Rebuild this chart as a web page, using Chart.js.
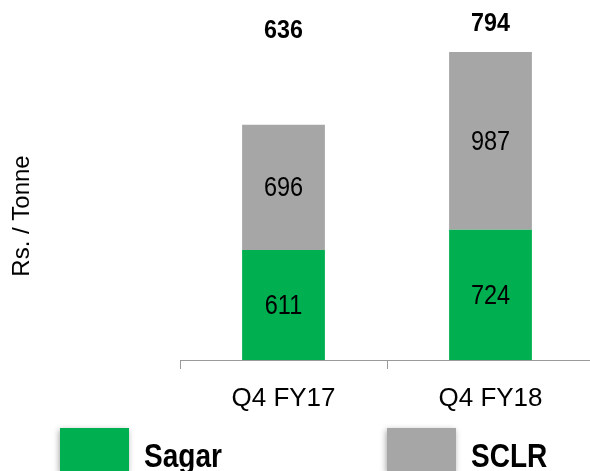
<!DOCTYPE html>
<html lang="en">
<head>
<meta charset="UTF-8" />
<meta name="viewport" content="width=device-width, initial-scale=1.0" />
<title>Rs. / Tonne</title>
<script src="https://cdn.jsdelivr.net/npm/chart.js"></script>
<style>
    html, body {
        margin: 0;
        padding: 0;
        background: #fff;
        overflow: hidden;
    }
    #chart {
        width: 594px;
        height: 471px;
    }
</style>
</head>
<body>
<div id="chart">
    <canvas id="myChart"></canvas>
</div>
<script>
    // Data
    const categories = ["Q4 FY17", "Q4 FY18"];
    const sagar = [611, 724];
    const sclr = [696, 987];
    const topLabels = ["636", "794"];

    const FONT = "'Liberation Sans', Arial, sans-serif";
    const GREEN = "#00b050";
    const GREY = "#a6a6a6";

    // the original uses a narrow font, squeeze the text a bit
    function narrowText(ctx, text, x, y, sx) {
        ctx.save();
        ctx.translate(x, y);
        ctx.scale(sx, 1);
        ctx.fillText(text, 0, 0);
        ctx.restore();
    }

    // Values inside each bar segment + bold labels over the bars
    const segmentLabels = {
        id: "segmentLabels",
        afterDatasetsDraw(chart) {
            const ctx = chart.ctx;
            ctx.save();
            ctx.font = "28px " + FONT;
            ctx.fillStyle = "#000";
            ctx.textAlign = "center";
            ctx.textBaseline = "middle";
            chart.data.datasets.forEach((ds, di) => {
                chart.getDatasetMeta(di).data.forEach((bar, i) => {
                    const p = bar.getProps(["x", "y", "base"], true);
                    narrowText(ctx, String(ds.data[i]), p.x, (p.y + p.base) / 2 + 1, 0.84);
                });
            });

            const last = chart.getDatasetMeta(chart.data.datasets.length - 1);
            ctx.font = "bold 25px " + FONT;
            last.data.forEach((bar, i) => {
                const y = Math.min(bar.y - 28, chart.chartArea.top - 41);
                narrowText(ctx, topLabels[i], bar.x, y, 0.93);
            });
            ctx.restore();
        },
    };

    // Legend at the bottom, big squares with a soft shadow
    const bottomLegend = {
        id: "bottomLegend",
        afterDraw(chart) {
            const ctx = chart.ctx;
            const xs = [60, 387];
            ctx.save();
            chart.data.datasets.forEach((ds, i) => {
                ctx.shadowColor = "rgba(0,0,0,0.35)";
                ctx.shadowBlur = 6;
                ctx.shadowOffsetX = -1;
                ctx.shadowOffsetY = 2;
                ctx.fillStyle = ds.backgroundColor;
                ctx.fillRect(xs[i], 428, 69, 44);
                ctx.shadowColor = "transparent";
                ctx.fillStyle = "#000";
                ctx.font = "bold 33px " + FONT;
                ctx.textAlign = "left";
                ctx.textBaseline = "alphabetic";
                narrowText(ctx, ds.label, xs[i] + 84, 467, 0.85);
            });
            ctx.restore();
        },
    };

    const ctx = document.getElementById("myChart").getContext("2d");
    const myChart = new Chart(ctx, {
        type: "bar",
        data: {
            labels: categories,
            datasets: [
                {
                    label: "Sagar",
                    data: sagar,
                    backgroundColor: GREEN,
                    categoryPercentage: 1,
                    barPercentage: 0.4,
                    clip: false,
                },
                {
                    label: "SCLR",
                    data: sclr,
                    backgroundColor: GREY,
                    categoryPercentage: 1,
                    barPercentage: 0.4,
                    clip: false,
                },
            ],
        },
        options: {
            responsive: true,
            maintainAspectRatio: false,
            animation: false,
            layout: {
                padding: { top: 72, left: 4, right: 0, bottom: 0 },
            },
            plugins: {
                legend: { display: false },
                tooltip: { enabled: false },
            },
            scales: {
                x: {
                    stacked: true,
                    grid: {
                        display: true,
                        drawOnChartArea: false,
                        drawTicks: true,
                        tickLength: 9,
                        color: "#9a9a9a",
                    },
                    border: { display: true, color: "#9a9a9a", width: 1 },
                    ticks: {
                        color: "#000",
                        padding: 14,
                        font: { family: FONT, size: 26 },
                    },
                    afterFit: (scale) => {
                        scale.height = 111;
                    },
                },
                y: {
                    stacked: true,
                    min: 0,
                    max: 1600,
                    ticks: { display: false },
                    grid: { display: false },
                    border: { display: false },
                    title: {
                        display: true,
                        text: "Rs. / Tonne",
                        color: "#000",
                        font: { family: FONT, size: 24 },
                    },
                    afterFit: (scale) => {
                        scale.width = 176;
                    },
                },
            },
        },
        plugins: [segmentLabels, bottomLegend],
    });
</script>
</body>
</html>
